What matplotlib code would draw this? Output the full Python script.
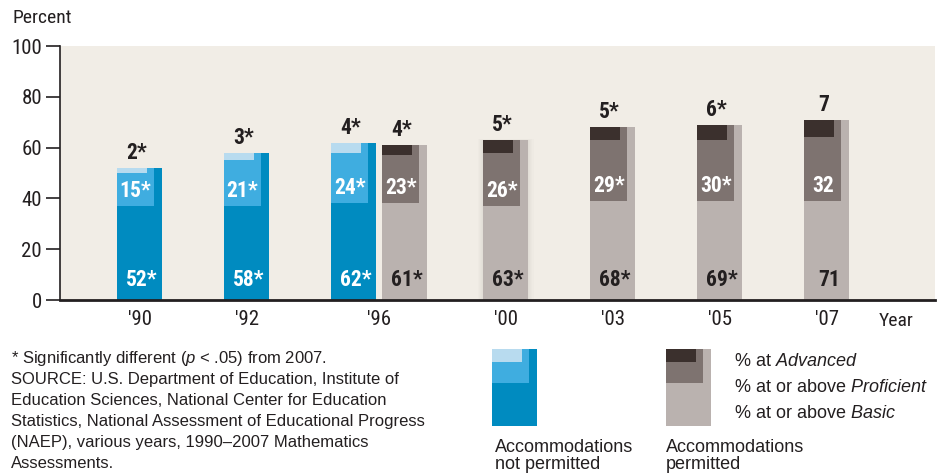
import numpy as np
import matplotlib.pyplot as plt
from matplotlib.patches import Rectangle

plt.rcParams["mathtext.fontset"] = "custom"
plt.rcParams["mathtext.rm"] = "Liberation Sans"
plt.rcParams["mathtext.it"] = "Liberation Sans:italic"

# data
years = ["'90", "'92", "'96", "'96", "'00", "'03", "'05", "'07"]
accommodations = ["no", "no", "no", "yes", "yes", "yes", "yes", "yes"]
basic = [52, 58, 62, 61, 63, 68, 69, 71]
proficient = [15, 21, 24, 23, 26, 29, 30, 32]
advanced = [2, 3, 4, 4, 5, 5, 6, 7]
signif = [True, True, True, True, True, True, True, False]
tick_labels = ["'90", "'92", "'96", "'00", "'03", "'05", "'07"]

# layout
xpos = [0, 1, 2, 2.477, 3.42, 4.42, 5.42, 6.42]
tick_pos = [0, 1, 2.24, 3.42, 4.42, 5.42, 6.42]
w_full, w_prof, w_adv = 0.42, 0.345, 0.28

blue = ["#008bc0", "#3fade0", "#b8dbef"]
gray = ["#bab2af", "#7e7370", "#3b302d"]
bg = "#f1ede6"
dark = "#231f20"

narrow = ["Roboto Condensed", "DejaVu Sans"]
plain = ["Liberation Sans", "DejaVu Sans"]

W, H = 944, 476
fig = plt.figure(figsize=(W / 100, H / 100), dpi=100)
ax = fig.add_axes([60 / W, (H - 300) / H, (935 - 60) / W, 254 / H])
ax.set_facecolor(bg)
ax.set_xlim(-0.743, 7.43)
ax.set_ylim(0, 100)

# soft glow around the 2000 bar
i00 = 4
for k in range(5):
    pad = 0.01 * (k + 1)
    ax.add_patch(Rectangle((xpos[i00] - w_full / 2 - pad, 0), w_full + 2 * pad, basic[i00] + pad * 6,
                           color="#000000", alpha=0.012, lw=0, zorder=1))

for i in range(len(basic)):
    cols = blue if accommodations[i] == "no" else gray
    left = xpos[i] - w_full / 2
    b, p, a = basic[i], proficient[i], advanced[i]
    ax.bar(left, b, width=w_full, align="edge", color=cols[0], lw=0, zorder=2)
    ax.bar(left, p, width=w_prof, bottom=b - p, align="edge", color=cols[1], lw=0, zorder=3)
    ax.bar(left, a, width=w_adv, bottom=b - a, align="edge", color=cols[2], lw=0, zorder=4)
    star = "*" if signif[i] else ""
    ax.text(left + w_prof / 2 + 0.01, b + 1.5, f"{a}{star}", ha="center", va="bottom",
            fontsize=15.5, fontweight="bold", family=narrow, color=dark, zorder=5)
    ax.text(left + w_prof / 2, b - p + 6, f"{p}{star}", ha="center", va="center",
            fontsize=15.5, fontweight="bold", family=narrow, color="white", zorder=5)
    lab_col = "white" if accommodations[i] == "no" else dark
    ax.text(xpos[i] + 0.02, 8, f"{b}{star}", ha="center", va="center",
            fontsize=15.5, fontweight="bold", family=narrow, color=lab_col, zorder=5)

for s in ["top", "right"]:
    ax.spines[s].set_visible(False)
ax.spines["left"].set_color(dark)
ax.spines["left"].set_linewidth(1.2)
ax.spines["bottom"].set_color(dark)
ax.spines["bottom"].set_linewidth(2)
ax.set_yticks([0, 20, 40, 60, 80, 100])
ax.set_xticks(tick_pos)
ax.set_xticklabels(tick_labels)
ax.tick_params(axis="y", length=10, width=1.2, color=dark, pad=3, labelsize=15)
ax.tick_params(axis="x", length=0, pad=7, labelsize=15)
for t in ax.get_yticklabels() + ax.get_xticklabels():
    t.set_family(narrow)
    t.set_color(dark)

fig.text(12 / W, 1 - 18 / H, "Percent", ha="left", va="center", fontsize=14, family=narrow, color=dark)
fig.text(879 / W, 1 - 321 / H, "Year", ha="left", va="center", fontsize=14, family=narrow, color=dark)

# footnote
foot = [r"* Significantly different ($\it{p}$ < .05) from 2007.",
        "SOURCE: U.S. Department of Education, Institute of",
        "Education Sciences, National Center for Education",
        "Statistics, National Assessment of Educational Progress",
        "(NAEP), various years, 1990\u20132007 Mathematics",
        "Assessments."]
for k, line in enumerate(foot):
    fig.text(11 / W, 1 - (358 + 21.2 * k) / H, line, ha="left", va="center",
             fontsize=12, family=plain, color=dark)

# legend swatches
lax = fig.add_axes([0, 0, 1, 1], facecolor="none")
lax.set_xlim(0, W)
lax.set_ylim(H, 0)
lax.axis("off")
for x0, cols in [(492, blue), (666, gray)]:
    lax.add_patch(Rectangle((x0, 349), 45, 77, color=cols[0], lw=0))
    lax.add_patch(Rectangle((x0, 349), 37, 34, color=cols[1], lw=0))
    lax.add_patch(Rectangle((x0, 349), 30, 13, color=cols[2], lw=0))
lax.text(495, 456, "Accommodations\nnot permitted", ha="left", va="center", fontsize=13,
         family=plain, color=dark, linespacing=1.05)
lax.text(666, 456, "Accommodations\npermitted", ha="left", va="center", fontsize=13,
         family=plain, color=dark, linespacing=1.05)
leg_lines = [r"% at $\it{Advanced}$", r"% at or above $\it{Proficient}$", r"% at or above $\it{Basic}$"]
for k, line in enumerate(leg_lines):
    lax.text(734, 361 + 26 * k, line, ha="left", va="center", fontsize=13, family=plain, color=dark)

fig.savefig("out.png", dpi=100)
